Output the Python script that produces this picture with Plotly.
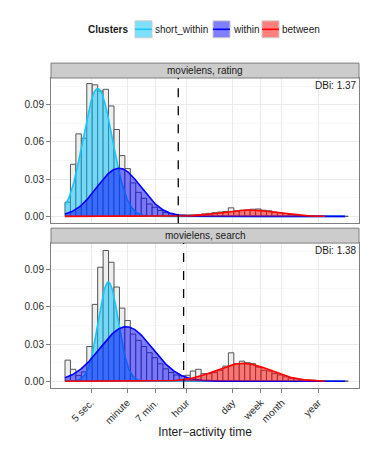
import numpy as np
import plotly.graph_objects as go

# --- data (x in log10 seconds) ---
BIN_START = -0.08
BIN_WIDTH = 0.163

hist_rating = [0.0115, 0.042, 0.0665, 0.063, 0.107, 0.106, 0.101, 0.1024, 0.089, 0.070,
               0.049, 0.0385, 0.027, 0.0194, 0.0146, 0.010, 0.0074, 0.0048, 0.003, 0.0022,
               0.0013, 0.0012, 0.0012, 0.0013, 0.0015, 0.002, 0.0025, 0.003, 0.0035, 0.004,
               0.0069, 0.0045, 0.005, 0.0052, 0.0058, 0.006, 0.005, 0.0045, 0.0035, 0.003,
               0.0022, 0.0015, 0.001, 0.0007, 0.0005, 0.0004, 0.0003, 0.0002, 0.0002, 0.0001,
               0.0001, 0.0001]
hist_search = [0.017, 0.0096, 0.0045, 0.0075, 0.028, 0.062, 0.092, 0.1055, 0.096, 0.076,
               0.059, 0.049, 0.038, 0.033, 0.028, 0.023, 0.019, 0.014, 0.010, 0.007,
               0.005, 0.0043, 0.0048, 0.0082, 0.0096, 0.0061, 0.0061, 0.0069, 0.0088, 0.0122,
               0.0229, 0.0141, 0.0162, 0.0149, 0.0141, 0.0114, 0.0088, 0.0082, 0.0061, 0.005,
               0.0035, 0.0024, 0.0019, 0.0013, 0.001, 0.0008, 0.0005, 0.0004, 0.0003, 0.0002,
               0.0001, 0.0001]

clusters = ["short_within", "within", "between"]
# fitted components per panel: mean, sd (log10 s), peak height, curve range
rating_mean = [0.90, 1.537, 5.40]
rating_sd = [0.44, 0.66, 0.80]
rating_peak = [0.103, 0.0388, 0.0052]
search_mean = [1.217, 1.75, 5.25]
search_sd = [0.30, 0.78, 0.81]
search_peak = [0.080, 0.044, 0.0144]
curve_lo = [-0.08, -0.08, -0.08]
curve_hi = [8.3, 8.3, 7.7]

cutoff = [3.31, 3.47]
dbi = ["DBi: 1.37", "DBi: 1.38"]
panel_names = ["movielens, rating", "movielens, search"]

tick_seconds = [5, 60, 420, 3600, 86400, 604800, 2592000, 31536000]
tick_labels = ["5 sec.", "minute", "7 min.", "hour", "day", "week", "month", "year"]

# --- styles ---
line_cols = ["#1AC6F5", "#0000FF", "#FF0000"]
fill_cols = ["rgba(0,191,255,0.5)", "rgba(0,0,255,0.5)", "rgba(255,0,0,0.5)"]
FONT = "Liberation Sans, Arial, Helvetica, sans-serif"

# the page body has an 8px margin, so the figure is shrunk by that much
W, H = 374 - 8, 449 - 8

# pixel helpers for the hand-drawn legend (plot area 51..359 x 78..390 on the page)
def px_x(px):
    return (px - 51) / 308.0

def px_y(py):
    return 1 + (78 - py) / 312.0

centers = BIN_START + BIN_WIDTH * (np.arange(len(hist_rating)) + 0.5)
tickvals = np.log10(tick_seconds)

fig = go.Figure()

panels = [
    ("y", "x", hist_rating, rating_mean, rating_sd, rating_peak),
    ("y2", "x2", hist_search, search_mean, search_sd, search_peak),
]

for yref, xref, hist, means, sds, peaks in panels:
    fig.add_trace(go.Bar(
        x=centers, y=hist, width=BIN_WIDTH, xaxis=xref, yaxis=yref,
        marker=dict(color="#EEEEEE", line=dict(color="#555555", width=1)),
        showlegend=False, hoverinfo="skip"))
    for k, name in enumerate(clusters):
        xs = np.linspace(curve_lo[k], curve_hi[k], 400)
        ys = peaks[k] * np.exp(-(xs - means[k]) ** 2 / (2 * sds[k] ** 2))
        fig.add_trace(go.Scatter(
            x=xs, y=ys, mode="lines", fill="tozeroy", fillcolor=fill_cols[k],
            line=dict(color=line_cols[k], width=1.6), name=name,
            showlegend=False, xaxis=xref, yaxis=yref))

axis_common = dict(
    range=[-0.499, 8.72], tickmode="array", tickvals=tickvals,
    showgrid=True, gridcolor="#EBEBEB", gridwidth=1, zeroline=False,
    showline=True, mirror=True, linecolor="#7F7F7F", linewidth=1,
    ticks="outside", ticklen=4, tickcolor="#7F7F7F",
)
yaxis_common = dict(
    range=[-0.0055, 0.1115], tickmode="array", tickvals=[0, 0.03, 0.06, 0.09],
    ticktext=["0.00", "0.03", "0.06", "0.09"],
    showgrid=True, gridcolor="#EBEBEB", zeroline=False,
    minor=dict(dtick=0.015, showgrid=True, gridcolor="#F7F7F7", ticklen=0),
    showline=True, mirror=True, linecolor="#7F7F7F", linewidth=1,
    ticks="outside", ticklen=4, tickcolor="#7F7F7F",
    tickfont=dict(size=10, color="#2B2B2B", family=FONT),
)

top_dom = [0.5315, 1.0]
bot_dom = [0.0, 0.4675]

fig.update_layout(
    width=W, height=H,
    margin=dict(l=43, r=15, t=70, b=59),
    paper_bgcolor="white", plot_bgcolor="white",
    font=dict(family=FONT, size=10, color="#1A1A1A"),
    xaxis=dict(axis_common, anchor="y", showticklabels=False, ticks=""),
    yaxis=dict(yaxis_common, domain=top_dom, anchor="x"),
    xaxis2=dict(axis_common, anchor="y2", matches="x", ticktext=tick_labels,
                tickangle=-45, tickfont=dict(size=10, color="#2B2B2B", family=FONT),
                title=dict(text="Inter\u2212activity time", font=dict(size=12, color="#1A1A1A"),
                           standoff=2)),
    yaxis2=dict(yaxis_common, domain=bot_dom, anchor="x2"),
    showlegend=False,
)

# legend drawn by hand: title, keys with fill + line, labels
fig.add_annotation(xref="paper", yref="paper", x=px_x(88), y=px_y(29), text="<b>Clusters</b>",
                   showarrow=False, xanchor="left", yanchor="middle", xshift=-2,
                   font=dict(size=10, color="#1A1A1A"))
key_left = [135, 213, 262]
for k, name in enumerate(clusters):
    x0, x1 = px_x(key_left[k]), px_x(key_left[k] + 17)
    fig.add_shape(type="rect", xref="paper", yref="paper", x0=x0, x1=x1,
                  y0=px_y(37.5), y1=px_y(20.5), fillcolor=fill_cols[k],
                  line=dict(color="#CCCCCC", width=1))
    fig.add_shape(type="line", xref="paper", yref="paper", x0=x0, x1=x1,
                  y0=px_y(29), y1=px_y(29), line=dict(color=line_cols[k], width=1.6))
    fig.add_annotation(xref="paper", yref="paper", x=px_x(key_left[k] + 18), y=px_y(29),
                       text=name, showarrow=False, xanchor="left", yanchor="middle",
                       font=dict(size=10, color="#1A1A1A"))

# strips, dashed cutoffs and DBi labels
strip_h = 15 / 312.0
for i, (dom, xr, yr) in enumerate([(top_dom, "x", "y"), (bot_dom, "x2", "y2")]):
    fig.add_shape(type="rect", xref="paper", yref="paper", x0=0, x1=1,
                  y0=dom[1], y1=dom[1] + strip_h,
                  fillcolor="#CCCCCC", line=dict(color="#7F7F7F", width=1))
    fig.add_annotation(xref="paper", yref="paper", x=0.5, y=dom[1] + strip_h / 2,
                       text=panel_names[i], showarrow=False, yanchor="middle",
                       font=dict(size=10, color="#1A1A1A"))
    fig.add_shape(type="line", xref=xr, yref=yr + " domain", x0=cutoff[i], x1=cutoff[i],
                  y0=0, y1=1, line=dict(color="black", width=1.3, dash="dash"))
    fig.add_annotation(xref=xr + " domain", yref=yr + " domain", x=1.0, y=1.0,
                       text=dbi[i], showarrow=False, xanchor="right", yanchor="top",
                       font=dict(size=10, color="#1A1A1A"))

fig.write_html("out.html")
